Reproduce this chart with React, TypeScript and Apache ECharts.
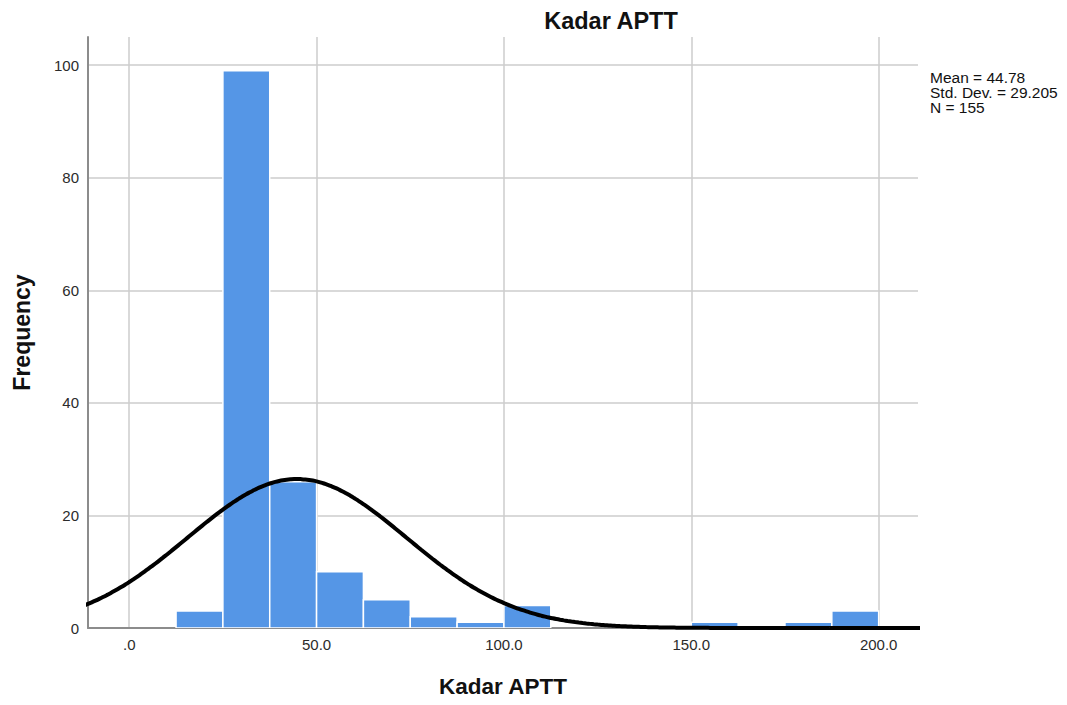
import React, { useEffect, useRef } from "react";
import * as echarts from "echarts";

// Histogram bins (lower edges) and frequencies
const binStarts = [12.5, 25, 37.5, 50, 62.5, 75, 87.5, 100, 112.5, 125, 137.5, 150, 162.5, 175, 187.5];
const counts = [3, 99, 26, 10, 5, 2, 1, 4, 0, 0, 0, 1, 0, 1, 3];
const binWidth = 12.5;

// Summary statistics shown on the chart
const mean = 44.78;
const stdDev = 29.205;
const n = 155;

const xTicks = [0, 50, 100, 150, 200];
const yTicks = [0, 20, 40, 60, 80, 100];

// Fitted normal curve defined by the chart's stated Mean / Std. Dev. / N
const curveXs: number[] = [];
for (let x = -12; x <= 212; x += 1) curveXs.push(x);
const curve = curveXs.map((x) => {
  const z = (x - mean) / stdDev;
  return [x, (n * binWidth * Math.exp(-0.5 * z * z)) / (stdDev * Math.sqrt(2 * Math.PI))];
});

export default function App() {
  const ref = useRef<HTMLDivElement>(null);
  useEffect(() => {
    document.body.style.margin = "0";
    const chart = echarts.init(ref.current!, null, { renderer: "svg" });
    const font = "'Liberation Sans', Arial, sans-serif";
    chart.setOption({
      animation: false,
      backgroundColor: "#ffffff",
      title: {
        text: "Kadar APTT",
        left: 606,
        top: 4,
        textAlign: "center",
        textStyle: { fontFamily: font, fontSize: 23.5, fontWeight: "bold", color: "#111111" },
      },
      grid: { left: 88, right: 149, top: 37, bottom: 77, containLabel: false },
      xAxis: {
        type: "value",
        min: -11,
        max: 210.5,
        name: "Kadar APTT",
        nameLocation: "middle",
        nameGap: 47,
        nameTextStyle: { fontFamily: font, fontSize: 22.5, fontWeight: "bold", color: "#111111" },
        axisLine: { show: true, onZero: false, lineStyle: { color: "#8c8c8c", width: 2 } },
        axisTick: { show: false, customValues: xTicks },
        axisLabel: {
          customValues: xTicks,
          fontFamily: font,
          fontSize: 15,
          color: "#2b2b2b",
          margin: 9,
          formatter: (v: number) => (v === 0 ? ".0" : v.toFixed(1)),
        },
        splitLine: { show: true, lineStyle: { color: "#cccccc", width: 1.5 } },
      },
      yAxis: {
        type: "value",
        min: 0,
        max: 105,
        name: "Frequency",
        nameLocation: "middle",
        nameGap: 55,
        nameTextStyle: { fontFamily: font, fontSize: 23, fontWeight: "bold", color: "#111111" },
        axisLine: { show: true, onZero: false, lineStyle: { color: "#8c8c8c", width: 2 } },
        axisTick: { show: false, customValues: yTicks },
        axisLabel: { customValues: yTicks, fontFamily: font, fontSize: 15, color: "#2b2b2b", margin: 9 },
        splitLine: { show: true, lineStyle: { color: "#cccccc", width: 1.5 } },
      },
      series: [
        {
          type: "custom",
          data: binStarts.map((s, i) => [s, s + binWidth, counts[i]]),
          encode: { x: [0, 1], y: 2 },
          clip: true,
          z: 2,
          renderItem: (params: any, api: any) => {
            const v = api.value(2);
            if (!v) return null;
            const p0 = api.coord([api.value(0), v]);
            const p1 = api.coord([api.value(1), 0]);
            return {
              type: "rect",
              shape: { x: p0[0], y: p0[1], width: p1[0] - p0[0], height: p1[1] - p0[1] },
              style: { fill: "#5596e6", stroke: "#ffffff", lineWidth: 1.5 },
            };
          },
        },
        {
          type: "line",
          data: curve,
          showSymbol: false,
          smooth: true,
          clip: true,
          z: 5,
          lineStyle: { color: "#000000", width: 4 },
        },
      ],
      graphic: [
        {
          type: "text",
          left: 930,
          top: 69,
          style: {
            text: "Mean = 44.78\nStd. Dev. = 29.205\nN = 155",
            fontFamily: font,
            fontSize: 15.5,
            lineHeight: 15,
            fill: "#111111",
          },
        },
      ],
    });
    return () => chart.dispose();
  }, []);
  return <div ref={ref} style={{ width: 1067, height: 705 }} />;
}
